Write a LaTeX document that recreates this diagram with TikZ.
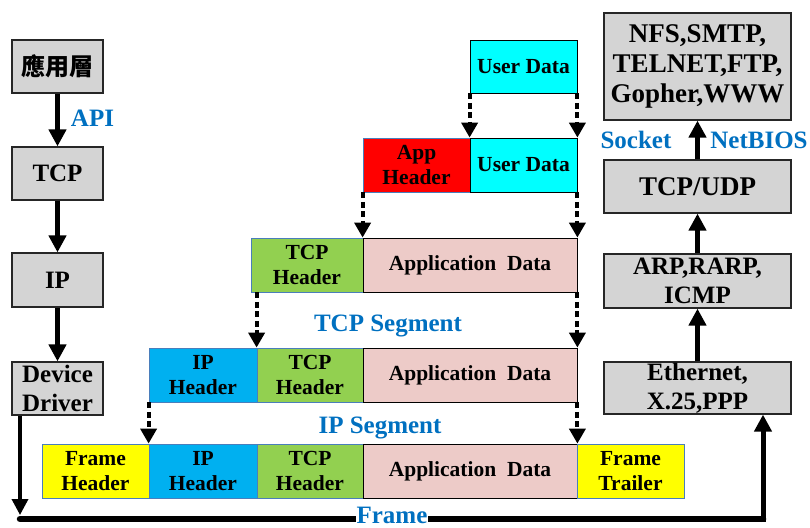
\documentclass[tikz,border=0pt]{standalone}
\usepackage{fontspec}
\setmainfont{Liberation Serif}
\newfontfamily\cjkfont{Noto Sans CJK TC}[UprightFont=* Bold]
\usetikzlibrary{arrows.meta}

\definecolor{boxgrey}{HTML}{D4D4D4}
\definecolor{segedge}{HTML}{4A7EBB}
\definecolor{labblue}{HTML}{0070C0}
\definecolor{cyanbox}{HTML}{00FFFF}
\definecolor{redbox}{HTML}{FF0000}
\definecolor{greenbox}{HTML}{92D050}
\definecolor{bluebox}{HTML}{00B0F0}
\definecolor{yellowbox}{HTML}{FFFF00}
\definecolor{pinkbox}{HTML}{EDCBC8}

\tikzset{
  sz/.style 2 args={minimum width=#1pt, minimum height=#2pt},
  layer/.style={draw=black!85, line width=1.2pt, fill=boxgrey, inner sep=0pt,
    align=center, font=\bfseries\fontsize{25}{29}\selectfont},
  biglayer/.style={layer, font=\bfseries\fontsize{27}{30}\selectfont},
  field/.style={draw=segedge, line width=0.8pt, inner sep=0pt, align=center,
    font=\bfseries\fontsize{21.5}{25}\selectfont},
  datafield/.style={field, draw=black},
  lab/.style={text=labblue, inner sep=1pt, anchor=base,
    font=\bfseries\fontsize{25}{29}\selectfont},
  flow/.style={line width=4.5pt, -{Triangle[length=17pt,width=17pt]}},
  dflow/.style={line width=4pt, dash pattern=on 6pt off 3.5pt,
    -{Triangle[length=15pt,width=16pt]}},
}

\begin{document}
\begin{tikzpicture}[x=1pt, y=-1pt]
\useasboundingbox (0,0) rectangle (810,527);

% left stack
\node[layer, sz={91}{53}] (app) at (57.5,66.5) {\cjkfont\fontsize{24}{28}\selectfont 應用層};
\node[layer, sz={91}{53}] (tcp) at (57.5,173.5) {TCP};
\node[layer, sz={91}{54}] (ip)  at (57.5,280) {IP};
\node[layer, sz={91}{53}] (dd)  at (57.5,388.5) {Device\\Driver};

\draw[flow] (app) -- (tcp);
\draw[flow] (tcp) -- (ip);
\draw[flow] (ip) -- (dd);
\node[lab] (api) at (92.5,126) {API};

% right stack
\node[biglayer, sz={187}{107}] (nfs) at (697.5,66.5) {NFS,SMTP,\\TELNET,FTP,\\Gopher,WWW};
\node[biglayer, sz={187}{53}] (tu)  at (697.5,186.5) {TCP/UDP};
\node[layer, sz={187}{54}] (arp) at (697.5,281) {ARP,RARP,\\ICMP};
\node[layer, sz={187}{52}] (eth) at (697.5,388) {Ethernet,\\X.25,PPP};

\draw[flow] (tu) -- (nfs);
\draw[flow] (arp) -- (tu);
\draw[flow] (eth) -- (arp);
\node[lab] (sock) at (636,148) {Socket};
\node[lab] (nb) at (759,148) {NetBIOS};

% encapsulation rows
\node[datafield, fill=cyanbox, sz={107}{53}] (ud1) at (523.5,66.5) {User Data};

\node[field, fill=redbox, sz={107}{54}] (ah) at (416.5,165) {App\\Header};
\node[datafield, fill=cyanbox, sz={107}{54}] (ud2) at (523.5,165) {User Data};

\node[field, fill=greenbox, sz={112}{54}] (th3) at (307,265) {TCP\\Header};
\node[datafield, fill=pinkbox, sz={214}{54}] (ad3) at (470,265) {Application\ \ Data};

\node[field, fill=bluebox, sz={108}{54}] (ih4) at (203,375) {IP\\Header};
\node[field, fill=greenbox, sz={106}{54}] (th4) at (310,375) {TCP\\Header};
\node[datafield, fill=pinkbox, sz={214}{54}] (ad4) at (470,375) {Application\ \ Data};

\node[field, fill=yellowbox, sz={107}{54}] (fh5) at (95.5,471) {Frame\\Header};
\node[field, fill=bluebox, sz={108}{54}] (ih5) at (203,471) {IP\\Header};
\node[field, fill=greenbox, sz={106}{54}] (th5) at (310,471) {TCP\\Header};
\node[datafield, fill=pinkbox, sz={214}{54}] (ad5) at (470,471) {Application\ \ Data};
\node[field, fill=yellowbox, sz={107}{54}] (ft5) at (630.5,471) {Frame\\Trailer};

\draw[dflow] (ud1.south west) -- (ud2.north west);
\draw[dflow] (ud1.south east) -- (ud2.north east);
\draw[dflow] (ah.south west) -- (ad3.north west);
\draw[dflow] (ud2.south east) -- (ad3.north east);
\draw[dflow] (th4.north west |- th3.south) -- (th4.north west);
\draw[dflow] (ad3.south east) -- (ad4.north east);
\draw[dflow] (ih4.south west) -- (ih5.north west);
\draw[dflow] (ad4.south east) -- (ad5.north east);

\node[lab] (tseg) at (388,331) {TCP Segment};
\node[lab] (iseg) at (380,433) {IP Segment};

% physical frame path
\coordinate (fl) at (20,519);
\coordinate (fr) at (763,519);
\draw[line width=3.5pt, -{Triangle[length=16pt,width=16pt]}] (dd.south -| fl) -- ([yshift=4pt]fl);
\draw[line width=6.5pt, line cap=round] (fl) -- (fr);
\draw[line width=5pt, -{Triangle[length=17pt,width=17pt]}] ([yshift=-3pt]fr) -- (eth.south -| fr);
\node[lab, fill=white, inner ysep=0pt] (frame) at (392,523) {Frame};
\end{tikzpicture}
\end{document}
